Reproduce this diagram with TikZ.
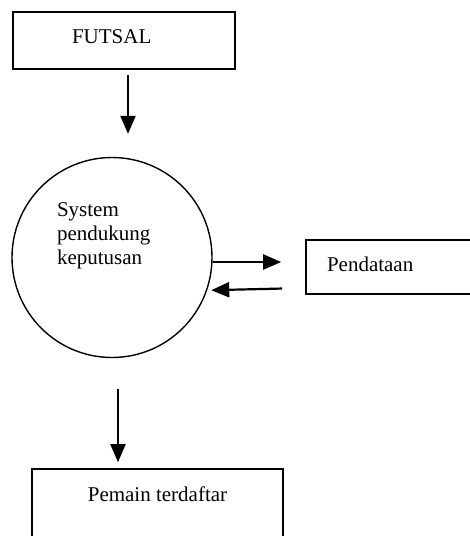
\documentclass[tikz,border=0pt]{standalone}
\usepackage{fontspec}
\setmainfont{Liberation Serif}
\usetikzlibrary{arrows.meta,shapes}

\begin{document}
\begin{tikzpicture}[
	x=1pt, y=-1pt,
	>={Triangle[length=18pt,width=15pt]},
	box/.style={draw, line width=1.6pt, rectangle, inner sep=0pt},
	flow/.style={->, line width=2.2pt}]
	\useasboundingbox (0,0) rectangle (470,536);
	\clip (0,0) rectangle (470,536);
	\fontsize{21}{24}\selectfont
	\node[box, minimum width=222pt, minimum height=57pt, text width=104pt, align=left, text depth=7pt] (futsal) at (124,40.5) {FUTSAL};
	\node[draw, line width=1.4pt, circle, minimum size=200pt, inner sep=0pt, text width=110pt, align=left] (proses) at (112,257.5) {System\\pendukung\\keputusan\rule[-48pt]{0pt}{48pt}};
	\node[box, minimum width=184pt, minimum height=54pt, text width=142pt, align=left, text depth=6pt] (pendataan) at (398,267) {Pendataan};
	\node[box, minimum width=251pt, text height=32pt, text depth=80pt] (pemain) at (157.5,525) {Pemain terdaftar};
	\draw[flow, shorten <=5pt, shorten >=23pt] ([xshift=4pt]futsal.south) -- ([xshift=4pt]futsal.south |- proses.north);
	\draw[flow, shorten >=24pt] ([yshift=-4.5pt]proses.east) -- ([yshift=-4.5pt]proses.east -| pendataan.west);
	\draw[flow, shorten <=23pt, shorten >=4pt] ([yshift=-21pt]pendataan.west) -- (proses.-19);
	\draw[flow, shorten <=31pt, shorten >=6pt] ([xshift=6pt]proses.south) -- ([xshift=6pt]proses.south |- pemain.north);
\end{tikzpicture}
\end{document}
